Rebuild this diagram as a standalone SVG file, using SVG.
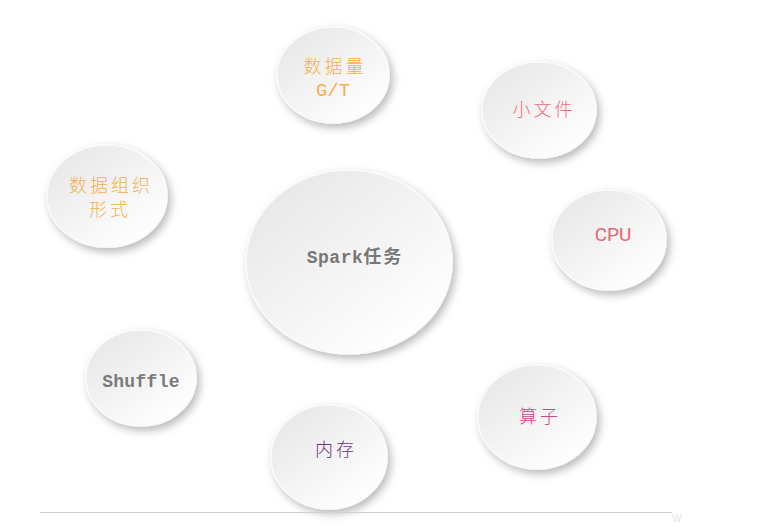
<svg xmlns="http://www.w3.org/2000/svg" width="769" height="530" viewBox="0 0 769 530">
<style>
.c{fill:url(#g);stroke:#fafafa;stroke-width:1.5;filter:url(#sh)}
.t{font-family:"Liberation Mono","Noto Sans CJK SC",monospace;text-anchor:middle}
.cj{font-family:"Noto Sans CJK SC","Noto Sans CJK JP",sans-serif;text-anchor:middle;font-weight:300;font-size:18px;letter-spacing:3px}
</style>
<defs>
<linearGradient id="g" x1="0.15" y1="0.1" x2="0.85" y2="0.9">
<stop offset="0" stop-color="#e8e8e8"/>
<stop offset="1" stop-color="#ffffff"/>
</linearGradient>
<filter id="sh" x="-30%" y="-30%" width="160%" height="160%">
<feDropShadow dx="3" dy="4" stdDeviation="4" flood-color="#000" flood-opacity="0.28"/>
</filter>
</defs>
<rect width="769" height="530" fill="#fff"/>
<g id="n-spark"><ellipse class="c" cx="349" cy="262" rx="103" ry="92"/><text class="t" x="355" y="263" font-size="18" font-weight="bold" fill="#777" letter-spacing="0.5">Spark<tspan font-family="Noto Sans CJK SC" letter-spacing="2">任务</tspan></text></g>
<g id="n-volume"><ellipse class="c" cx="333" cy="75" rx="56" ry="48"/><text class="cj" x="335" y="73" fill="#f5b04d">数据量</text><text class="t" x="333" y="96" font-size="19" fill="#f5b04d">G/T</text></g>
<g id="n-org"><ellipse class="c" cx="107" cy="196" rx="60" ry="51"/><text class="cj" x="111" y="192" fill="#f5b04d">数据组织</text><text class="cj" x="110" y="216" fill="#f5b04d">形式</text></g>
<g id="n-small"><ellipse class="c" cx="539" cy="110" rx="57" ry="48"/><text class="cj" x="544" y="116" fill="#e8707a">小文件</text></g>
<g id="n-cpu"><ellipse class="c" cx="609" cy="240" rx="57" ry="50"/><text x="613" y="241" font-family="Roboto,sans-serif" font-size="19" fill="#e8646e" text-anchor="middle">CPU</text></g>
<g id="n-shuffle"><ellipse class="c" cx="141" cy="378" rx="55" ry="48"/><text class="t" x="141" y="387" font-size="18" font-weight="bold" fill="#7a7a7a" letter-spacing="0.3">Shuffle</text></g>
<g id="n-mem"><ellipse class="c" cx="329" cy="457" rx="58" ry="52"/><text class="cj" x="336" y="456" fill="#6e3482">内存</text></g>
<g id="n-op"><ellipse class="c" cx="537" cy="417" rx="59" ry="52"/><text class="cj" x="540" y="423" fill="#c84882">算子</text></g>
<g id="connectors"></g>
<line x1="40" y1="512.5" x2="672" y2="512.5" stroke="#cfcfcf" stroke-width="1"/>
<text x="677" y="522" font-family="Liberation Sans,sans-serif" font-size="10" fill="#e4e4e4" text-anchor="middle">W</text>
</svg>
